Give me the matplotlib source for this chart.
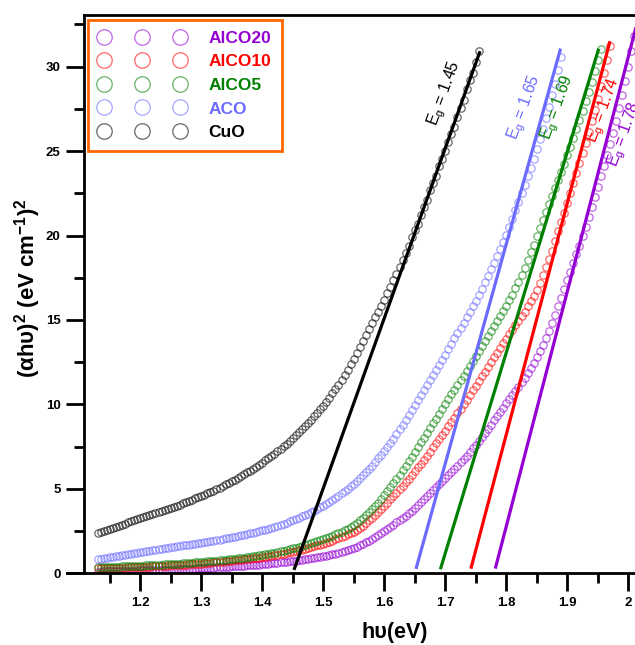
import numpy as np
import matplotlib.pyplot as plt

plt.rcParams['font.family'] = ['Liberation Sans', 'DejaVu Sans']
plt.rcParams['mathtext.fontset'] = 'custom'
plt.rcParams['mathtext.rm'] = 'Liberation Sans'
plt.rcParams['mathtext.it'] = 'Liberation Sans:italic'
plt.rcParams['mathtext.bf'] = 'Liberation Sans:bold'

# photon energy (eV), 5 meV steps
energy = [1.130, 1.135, 1.140, 1.145, 1.150, 1.155, 1.160, 1.165, 1.170, 1.175,
          1.180, 1.185, 1.190, 1.195, 1.200, 1.205, 1.210, 1.215, 1.220, 1.225,
          1.230, 1.235, 1.240, 1.245, 1.250, 1.255, 1.260, 1.265, 1.270, 1.275,
          1.280, 1.285, 1.290, 1.295, 1.300, 1.305, 1.310, 1.315, 1.320, 1.325,
          1.330, 1.335, 1.340, 1.345, 1.350, 1.355, 1.360, 1.365, 1.370, 1.375,
          1.380, 1.385, 1.390, 1.395, 1.400, 1.405, 1.410, 1.415, 1.420, 1.425,
          1.430, 1.435, 1.440, 1.445, 1.450, 1.455, 1.460, 1.465, 1.470, 1.475,
          1.480, 1.485, 1.490, 1.495, 1.500, 1.505, 1.510, 1.515, 1.520, 1.525,
          1.530, 1.535, 1.540, 1.545, 1.550, 1.555, 1.560, 1.565, 1.570, 1.575,
          1.580, 1.585, 1.590, 1.595, 1.600, 1.605, 1.610, 1.615, 1.620, 1.625,
          1.630, 1.635, 1.640, 1.645, 1.650, 1.655, 1.660, 1.665, 1.670, 1.675,
          1.680, 1.685, 1.690, 1.695, 1.700, 1.705, 1.710, 1.715, 1.720, 1.725,
          1.730, 1.735, 1.740, 1.745, 1.750, 1.755, 1.760, 1.765, 1.770, 1.775,
          1.780, 1.785, 1.790, 1.795, 1.800, 1.805, 1.810, 1.815, 1.820, 1.825,
          1.830, 1.835, 1.840, 1.845, 1.850, 1.855, 1.860, 1.865, 1.870, 1.875,
          1.880, 1.885, 1.890, 1.895, 1.900, 1.905, 1.910, 1.915, 1.920, 1.925,
          1.930, 1.935, 1.940, 1.945, 1.950, 1.955, 1.960, 1.965, 1.970, 1.975,
          1.980, 1.985, 1.990, 1.995, 2.000, 2.005, 2.010]

# (alpha h nu)^2 for each sample, all starting at 1.130 eV
cuo = [2.38, 2.44, 2.50, 2.56, 2.62, 2.68, 2.75, 2.81, 2.88, 2.94,
       3.01, 3.07, 3.14, 3.20, 3.26, 3.32, 3.38, 3.44, 3.50, 3.56,
       3.62, 3.68, 3.75, 3.81, 3.88, 3.94, 4.00, 4.07, 4.14, 4.21,
       4.28, 4.35, 4.43, 4.50, 4.58, 4.66, 4.74, 4.82, 4.90, 4.99,
       5.08, 5.17, 5.26, 5.35, 5.45, 5.55, 5.65, 5.75, 5.86, 5.97,
       6.08, 6.19, 6.31, 6.43, 6.55, 6.68, 6.81, 6.94, 7.08, 7.22,
       7.37, 7.52, 7.68, 7.84, 8.00, 8.17, 8.34, 8.52, 8.70, 8.89,
       9.09, 9.29, 9.50, 9.71, 9.93, 10.16, 10.40, 10.65, 10.90, 11.17,
       11.45, 11.74, 12.05, 12.37, 12.70, 13.05, 13.40, 13.75, 14.10, 14.45,
       14.80, 15.15, 15.50, 15.85, 16.20, 16.60, 16.95, 17.35, 17.70, 18.15,
       18.55, 18.95, 19.40, 19.90, 20.30, 20.70, 21.20, 21.70, 22.10, 22.70,
       23.10, 23.50, 24.10, 24.55, 25.00, 25.55, 26.00, 26.40, 27.00, 27.55,
       28.00, 28.70, 29.20, 29.65, 30.30, 30.90]
aco = [0.84, 0.87, 0.90, 0.93, 0.96, 0.99, 1.02, 1.05, 1.08, 1.11,
       1.14, 1.17, 1.20, 1.23, 1.26, 1.29, 1.32, 1.35, 1.38, 1.40,
       1.43, 1.46, 1.48, 1.51, 1.54, 1.56, 1.59, 1.62, 1.65, 1.67,
       1.70, 1.73, 1.76, 1.79, 1.82, 1.85, 1.88, 1.91, 1.94, 1.97,
       2.00, 2.03, 2.07, 2.10, 2.14, 2.17, 2.21, 2.25, 2.29, 2.33,
       2.37, 2.41, 2.45, 2.49, 2.54, 2.59, 2.64, 2.69, 2.75, 2.81,
       2.87, 2.93, 3.00, 3.07, 3.14, 3.21, 3.29, 3.37, 3.45, 3.53,
       3.62, 3.71, 3.81, 3.91, 4.01, 4.12, 4.23, 4.35, 4.47, 4.60,
       4.73, 4.87, 5.01, 5.16, 5.31, 5.47, 5.63, 5.80, 5.98, 6.18,
       6.38, 6.59, 6.80, 7.02, 7.25, 7.49, 7.73, 7.98, 8.24, 8.52,
       8.80, 9.09, 9.38, 9.67, 9.96, 10.25, 10.55, 10.85, 11.15, 11.45,
       11.75, 12.05, 12.35, 12.65, 12.95, 13.28, 13.60, 13.91, 14.22, 14.53,
       14.85, 15.17, 15.50, 15.82, 16.15, 16.50, 16.85, 17.22, 17.60, 18.00,
       18.40, 18.80, 19.20, 19.62, 20.05, 20.52, 21.00, 21.50, 22.00, 22.50,
       23.00, 23.50, 24.00, 24.55, 25.10, 25.70, 26.30, 26.95, 27.60, 28.30,
       29.00, 29.80, 30.60]
alco5 = [0.36, 0.36, 0.37, 0.37, 0.38, 0.38, 0.39, 0.40, 0.41, 0.41,
         0.42, 0.43, 0.44, 0.44, 0.45, 0.46, 0.47, 0.48, 0.49, 0.50,
         0.51, 0.52, 0.53, 0.54, 0.55, 0.56, 0.57, 0.58, 0.59, 0.60,
         0.62, 0.63, 0.65, 0.66, 0.68, 0.69, 0.71, 0.72, 0.74, 0.75,
         0.77, 0.79, 0.81, 0.83, 0.85, 0.87, 0.89, 0.91, 0.93, 0.95,
         0.98, 1.00, 1.03, 1.06, 1.09, 1.12, 1.15, 1.18, 1.22, 1.26,
         1.30, 1.34, 1.38, 1.42, 1.47, 1.51, 1.56, 1.61, 1.66, 1.71,
         1.77, 1.83, 1.89, 1.95, 2.02, 2.09, 2.16, 2.23, 2.31, 2.39,
         2.47, 2.56, 2.65, 2.75, 2.87, 2.99, 3.13, 3.28, 3.44, 3.61,
         3.79, 3.98, 4.18, 4.40, 4.62, 4.85, 5.09, 5.33, 5.58, 5.84,
         6.10, 6.37, 6.64, 6.91, 7.19, 7.47, 7.75, 8.03, 8.32, 8.60,
         8.88, 9.16, 9.45, 9.73, 10.02, 10.31, 10.60, 10.87, 11.15, 11.42,
         11.70, 11.97, 12.25, 12.55, 12.85, 13.15, 13.45, 13.75, 14.05, 14.35,
         14.65, 14.95, 15.25, 15.55, 15.85, 16.17, 16.50, 16.87, 17.25, 17.67,
         18.10, 18.55, 19.00, 19.47, 19.95, 20.42, 20.90, 21.37, 21.85, 22.32,
         22.80, 23.27, 23.75, 24.25, 24.75, 25.27, 25.80, 26.32, 26.85, 27.40,
         27.95, 28.52, 29.10, 29.75, 30.40, 31.05]
alco10 = [0.30, 0.30, 0.31, 0.31, 0.32, 0.32, 0.33, 0.33, 0.34, 0.34,
          0.35, 0.36, 0.37, 0.37, 0.38, 0.39, 0.40, 0.40, 0.41, 0.42,
          0.43, 0.44, 0.45, 0.46, 0.47, 0.48, 0.49, 0.50, 0.51, 0.52,
          0.53, 0.54, 0.56, 0.57, 0.58, 0.59, 0.61, 0.62, 0.64, 0.65,
          0.67, 0.68, 0.70, 0.72, 0.74, 0.76, 0.78, 0.80, 0.82, 0.84,
          0.86, 0.88, 0.91, 0.93, 0.96, 0.98, 1.01, 1.04, 1.07, 1.10,
          1.13, 1.16, 1.20, 1.24, 1.28, 1.32, 1.36, 1.40, 1.45, 1.50,
          1.55, 1.60, 1.65, 1.70, 1.76, 1.82, 1.88, 1.94, 2.01, 2.08,
          2.15, 2.22, 2.30, 2.38, 2.47, 2.58, 2.70, 2.83, 2.98, 3.14,
          3.30, 3.47, 3.64, 3.82, 4.00, 4.19, 4.38, 4.58, 4.78, 4.98,
          5.19, 5.40, 5.61, 5.83, 6.05, 6.27, 6.50, 6.73, 6.97, 7.21,
          7.45, 7.69, 7.94, 8.19, 8.44, 8.70, 8.96, 9.22, 9.48, 9.75,
          10.02, 10.29, 10.56, 10.83, 11.10, 11.38, 11.66, 11.94, 12.22, 12.50,
          12.78, 13.06, 13.34, 13.62, 13.90, 14.16, 14.42, 14.68, 14.95, 15.22,
          15.50, 15.80, 16.10, 16.43, 16.80, 17.20, 17.65, 18.12, 18.60, 19.10,
          19.70, 20.25, 20.80, 21.35, 21.90, 22.50, 23.10, 23.70, 24.30, 24.90,
          25.50, 26.15, 26.80, 27.45, 28.10, 28.85, 29.60, 30.40, 31.20]
alco20 = [0.10, 0.10, 0.11, 0.11, 0.12, 0.12, 0.13, 0.13, 0.14, 0.14,
          0.15, 0.15, 0.16, 0.16, 0.17, 0.17, 0.18, 0.18, 0.19, 0.19,
          0.20, 0.20, 0.21, 0.21, 0.22, 0.22, 0.23, 0.23, 0.24, 0.25,
          0.26, 0.27, 0.28, 0.29, 0.30, 0.31, 0.32, 0.33, 0.34, 0.35,
          0.36, 0.37, 0.38, 0.39, 0.41, 0.42, 0.43, 0.44, 0.46, 0.47,
          0.48, 0.49, 0.51, 0.52, 0.54, 0.56, 0.58, 0.59, 0.61, 0.63,
          0.65, 0.67, 0.69, 0.71, 0.73, 0.75, 0.78, 0.80, 0.83, 0.86,
          0.89, 0.92, 0.95, 0.98, 1.01, 1.04, 1.08, 1.12, 1.16, 1.20,
          1.25, 1.30, 1.36, 1.43, 1.50, 1.58, 1.66, 1.75, 1.84, 1.94,
          2.04, 2.15, 2.26, 2.38, 2.50, 2.62, 2.75, 2.88, 3.01, 3.14,
          3.28, 3.42, 3.56, 3.71, 3.86, 4.04, 4.22, 4.40, 4.58, 4.76,
          4.94, 5.12, 5.30, 5.48, 5.66, 5.84, 6.02, 6.20, 6.38, 6.57,
          6.76, 6.97, 7.18, 7.40, 7.62, 7.85, 8.08, 8.32, 8.56, 8.81,
          9.06, 9.31, 9.56, 9.81, 10.06, 10.31, 10.56, 10.81, 11.06, 11.32,
          11.58, 11.86, 12.15, 12.47, 12.80, 13.15, 13.50, 13.92, 14.35, 14.82,
          15.30, 15.80, 16.30, 16.82, 17.35, 17.87, 18.40, 18.90, 19.40, 19.95,
          20.50, 21.10, 21.70, 22.30, 22.90, 23.50, 24.10, 24.75, 25.40, 26.10,
          26.80, 27.55, 28.30, 29.15, 30.00, 30.90, 31.80]

samples = ['AlCO20', 'AlCO10', 'AlCO5', 'ACO', 'CuO']
series = [alco20, alco10, alco5, aco, cuo]
band_gap = [1.78, 1.74, 1.69, 1.65, 1.45]      # Tauc intercepts (eV)
fit_slope = [139.0, 137.0, 118.8, 130.0, 100.7]
fit_end = [2.02, 1.970, 1.9515, 1.889, 1.757]

xticks = [1.2, 1.3, 1.4, 1.5, 1.6, 1.7, 1.8, 1.9, 2.0]
xtick_labels = ['1.2', '1.3', '1.4', '1.5', '1.6', '1.7', '1.8', '1.9', '2']
yticks = [0, 5, 10, 15, 20, 25, 30]

colors = ['#9400D3', '#FF0000', '#008000', '#6B6BFF', '#000000']
label_xy = [(1.995, 26.0), (1.960, 27.4), (1.885, 27.6), (1.830, 27.6), (1.699, 28.4)]

fig = plt.figure(figsize=(6.35, 6.45), dpi=100)
ax = fig.add_axes([67 / 635, 71.7 / 645, 568 / 635, 558.3 / 645])

# scatter draw order: red underneath, black on top
handles = {}
for i in [1, 2, 0, 3, 4]:
    y = series[i]
    h, = ax.plot(energy[:len(y)], y, 'o', mfc='none', mec=colors[i],
                 ms=5.3, mew=0.9, alpha=0.6, zorder=2 + i * 0.1)
    handles[i] = h

# linear Tauc fits
for i in range(5):
    xs = np.array([band_gap[i] + 0.002, fit_end[i]])
    ax.plot(xs, fit_slope[i] * (xs - band_gap[i]), '-', color=colors[i],
            lw=2.3, zorder=4, solid_capstyle='butt')
    ax.text(label_xy[i][0], label_xy[i][1],
            r'E$_\mathregular{g}$ = %.2f' % band_gap[i], color=colors[i],
            fontsize=11.5, rotation=70, ha='center', va='center', zorder=5)

ax.set_xlim(1.08, 2.011)
ax.set_ylim(0, 33.06)

ax.spines['left'].set_position(('data', 1.108))
ax.spines['right'].set_visible(False)
ax.spines['top'].set_bounds(1.108, 2.011)
for s in ['left', 'bottom', 'top']:
    ax.spines[s].set_linewidth(2)

ax.set_xticks(xticks)
ax.set_xticklabels(xtick_labels, fontweight='bold', fontsize=9.5)
ax.set_xticks([1.15, 1.25, 1.35, 1.45, 1.55, 1.65, 1.75, 1.85, 1.95], minor=True)
ax.set_yticks(yticks)
ax.set_yticklabels([str(t) for t in yticks], fontweight='bold', fontsize=9.5)
ax.set_yticks([2.5, 7.5, 12.5, 17.5, 22.5, 27.5, 32.5], minor=True)
ax.tick_params(which='major', direction='out', length=13, width=2, pad=4)
ax.tick_params(which='minor', direction='out', length=7, width=2)
ax.tick_params(top=False, right=False, which='both')

ax.set_xlabel('h\u03c5(eV)', fontsize=15.5, fontweight='bold')
ax.xaxis.set_label_coords(0.577, -0.087)
ax.set_ylabel('(\u03b1h\u03c5)$^\\mathbf{2}$ (eV cm$^\\mathbf{-1}$)$^\\mathbf{2}$',
              fontsize=16, fontweight='bold')
ax.yaxis.set_label_coords(-0.042, 0.51)

leg = ax.legend([handles[i] for i in range(5)], samples, loc='upper left',
                bbox_to_anchor=(0.037, 0.991), numpoints=3, markerscale=2.1,
                handlelength=5.0, handletextpad=1.35, labelspacing=0.49,
                borderpad=0.6, borderaxespad=0, fancybox=False,
                edgecolor='#FF6600', framealpha=1,
                prop={'weight': 'bold', 'size': 12.5})
leg.get_frame().set_linewidth(2)
for t, c in zip(leg.get_texts(), colors):
    t.set_color(c)

fig.savefig('out.png', dpi=100)
